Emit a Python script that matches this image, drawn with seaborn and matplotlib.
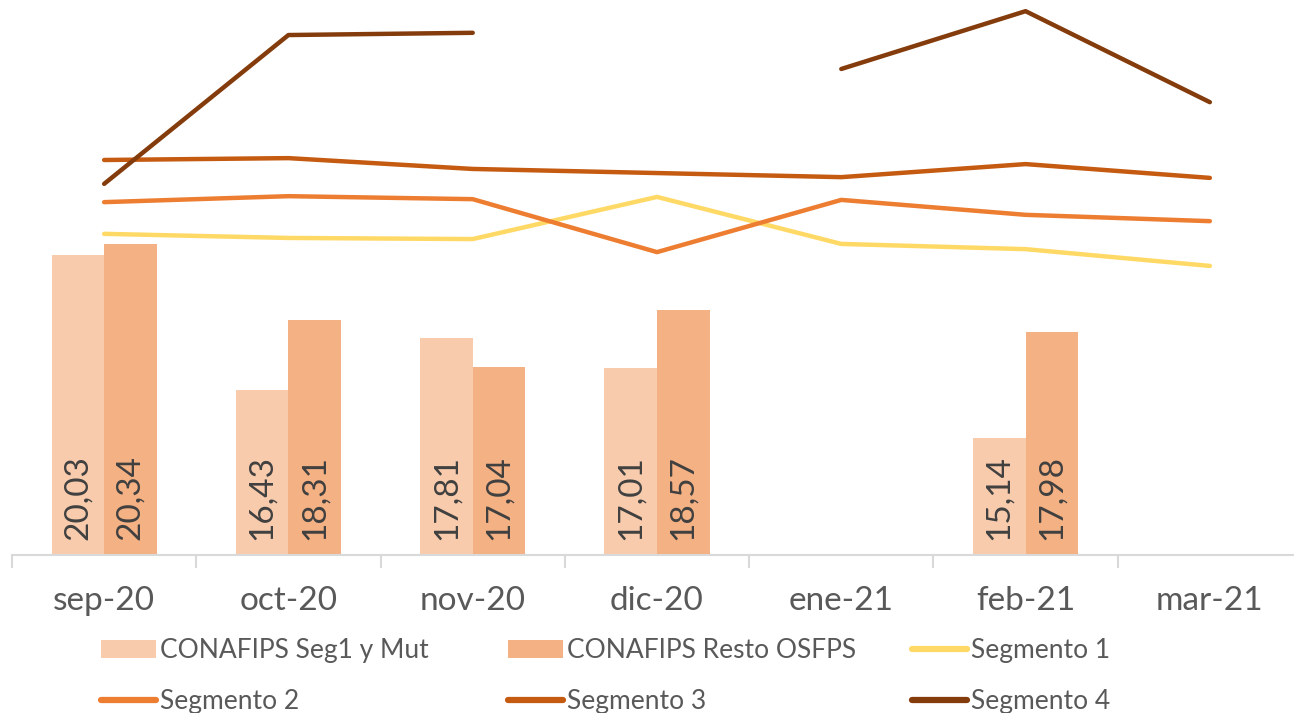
import numpy as np
import pandas as pd
import matplotlib
matplotlib.use("Agg")
import matplotlib.pyplot as plt
import seaborn as sns
from matplotlib.patches import Patch
from matplotlib.lines import Line2D

sns.set_theme(style="white")
plt.rcParams["font.family"] = ["Lato", "DejaVu Sans"]

# ------------------------
# DATOS
# ------------------------
meses = ["sep-20", "oct-20", "nov-20", "dic-20", "ene-21", "feb-21", "mar-21"]

conafips_seg1_mut = [20.03, 16.43, 17.81, 17.01, np.nan, 15.14, np.nan]
conafips_resto = [20.34, 18.31, 17.04, 18.57, np.nan, 17.98, np.nan]

segmento1 = [20.61, 20.50, 20.47, 21.60, 20.34, 20.20, 19.75]
segmento2 = [21.46, 21.62, 21.54, 20.12, 21.52, 21.12, 20.95]
segmento3 = [22.59, 22.64, 22.35, 22.24, 22.13, 22.48, 22.11]
segmento4 = [21.95, 25.94, 26.00, np.nan, 25.03, 26.58, 24.14]

nombres_barras = ["CONAFIPS Seg1 y Mut", "CONAFIPS Resto OSFPS"]
nombres_lineas = ["Segmento 1", "Segmento 2", "Segmento 3", "Segmento 4"]

col_barras = ["#F8CBAD", "#F4B183"]
col_lineas = ["#FFD966", "#ED7D31", "#C55A11", "#843C0C"]

# ------------------------
# TABLAS LARGAS
# ------------------------
df_barras = pd.DataFrame({
    "mes": meses * 2,
    "serie": [nombres_barras[0]] * 7 + [nombres_barras[1]] * 7,
    "valor": conafips_seg1_mut + conafips_resto,
})

filas = []
for nombre, vals in zip(nombres_lineas, [segmento1, segmento2, segmento3, segmento4]):
    tramo = pd.Series(vals).isna().cumsum()
    for i, v in enumerate(vals):
        filas.append({"pos": i, "serie": nombre, "valor": v, "tramo": int(tramo[i])})
df_lineas = pd.DataFrame(filas).dropna()

# ------------------------
# FIGURA
# ------------------------
fig = plt.figure(figsize=(12.94, 7.13), dpi=100)
W, H = 1294, 713
ax = fig.add_axes([12 / W, 1 - 555 / H, 1290 / W, 559.5 / H])

sns.barplot(data=df_barras, x="mes", y="valor", hue="serie", order=meses,
            hue_order=nombres_barras, palette=col_barras, width=0.57, gap=0,
            saturation=1, dodge=True, ax=ax, legend=False,
            edgecolor="none", linewidth=0)

sns.lineplot(data=df_lineas, x="pos", y="valor", hue="serie", units="tramo",
             estimator=None, hue_order=nombres_lineas, palette=col_lineas,
             linewidth=3.2, ax=ax, legend=False)

ymin, ymax = 12, 27
ax.set_ylim(ymin, ymax)
ax.set_xlim(-0.5, 6.5)

# etiquetas en barras
for cont in ax.containers:
    for rect in cont:
        h = rect.get_height()
        if np.isnan(h) or h <= ymin:
            continue
        ax.text(rect.get_x() + rect.get_width() / 2, ymin + 0.4,
                f"{h:.2f}".replace(".", ","), rotation=90, ha="center",
                va="bottom", fontsize=24, color="#404040")

# ejes
for lado in ["top", "right", "left"]:
    ax.spines[lado].set_visible(False)
ax.spines["bottom"].set_color("#D9D9D9")
ax.spines["bottom"].set_linewidth(1.5)
ax.set_yticks([])
ax.set_xlabel("")
ax.set_ylabel("")
ax.set_xticks(range(7))
ax.set_xticklabels(meses, fontsize=24, color="#595959")
ax.tick_params(axis="x", which="major", length=0, pad=22)
ax.set_xticks(np.arange(-0.5, 7, 1), minor=True)
ax.tick_params(axis="x", which="minor", length=9, width=1.5, color="#D9D9D9",
               direction="out", bottom=True)

# leyenda (tres columnas de igual ancho)
h_b = [Patch(facecolor=c, edgecolor="none") for c in col_barras]
h_l = [Line2D([0], [0], color=c, linewidth=4.5, solid_capstyle="round") for c in col_lineas]
columnas = [
    ([h_b[0], h_l[1]], [nombres_barras[0], nombres_lineas[1]], 101),
    ([h_b[1], h_l[2]], [nombres_barras[1], nombres_lineas[2]], 508),
    ([h_l[0], h_l[3]], [nombres_lineas[0], nombres_lineas[3]], 912),
]
for hs, ls, x0 in columnas:
    fig.legend(hs, ls, loc="upper left", bbox_to_anchor=(x0 / W, 1 - 638 / H),
               frameon=False, fontsize=19, labelcolor="#595959",
               handlelength=2.1, handletextpad=0.15, labelspacing=1.0,
               borderpad=0, borderaxespad=0)

fig.savefig("out.png", dpi=100)
